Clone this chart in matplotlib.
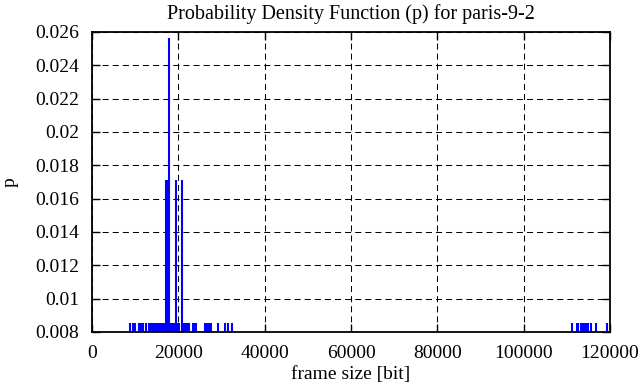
import matplotlib
matplotlib.use("Agg")
import matplotlib.pyplot as plt
from matplotlib.ticker import FuncFormatter, MultipleLocator

N = 117.0
# frame sizes [bit] and counts (p = count / N)
sizes_1 = [8800, 9400, 9950, 10800, 11300, 11800, 12400,
           13100, 13500, 13900, 14300, 14700, 15100, 15500, 15900, 16300, 16700,
           18300, 18700, 19100, 19800, 20200, 21200, 21600, 22000, 22400,
           23400, 23800, 24200, 26100, 26600, 27100, 27600, 29200, 30800, 31400, 32400,
           111300, 112300, 112700, 113300, 113800, 114300, 114700, 115000, 115600,
           116800, 119400]
sizes_2 = [17250, 17550, 19400, 20800]
sizes_3 = [17900]

sizes = sizes_1 + sizes_2 + sizes_3
probs = [1 / N] * len(sizes_1) + [2 / N] * len(sizes_2) + [3 / N] * len(sizes_3)

title = "Probability Density Function (p) for paris-9-2"
xlabel = "frame size [bit]"
ylabel = "p"

plt.rcParams['font.family'] = ['Liberation Serif', 'DejaVu Serif']

fig = plt.figure(figsize=(6.41, 3.87), dpi=100)
ax = fig.add_axes([92 / 641, 1 - 332 / 387, 518 / 641, 300 / 387])

ax.vlines(sizes, 0, probs, colors='#0000ff', linewidth=1.5, zorder=3)

ax.set_xlim(0, 120000)
ax.set_ylim(0.008, 0.026)
ax.xaxis.set_major_locator(MultipleLocator(20000))
ax.yaxis.set_major_locator(MultipleLocator(0.002))
ax.yaxis.set_major_formatter(FuncFormatter(lambda v, p: "%g" % round(v, 6)))
ax.xaxis.set_major_formatter(FuncFormatter(lambda v, p: "%g" % v))

ax.grid(True, color='black', linestyle=(0, (5.8, 3.9)), linewidth=0.75, zorder=1)
ax.tick_params(direction='in', length=6, width=1, top=True, right=True,
               labelsize=14)
ax.tick_params(axis='y', pad=9)
ax.tick_params(axis='x', pad=9)
for s in ax.spines.values():
    s.set_linewidth(1.3)
    s.set_zorder(4)

ax.set_title(title, fontsize=14.5, pad=9)
ax.set_xlabel(xlabel, fontsize=14, labelpad=3)
ax.set_ylabel(ylabel, fontsize=14, labelpad=12)

fig.savefig("out.png", dpi=100)
